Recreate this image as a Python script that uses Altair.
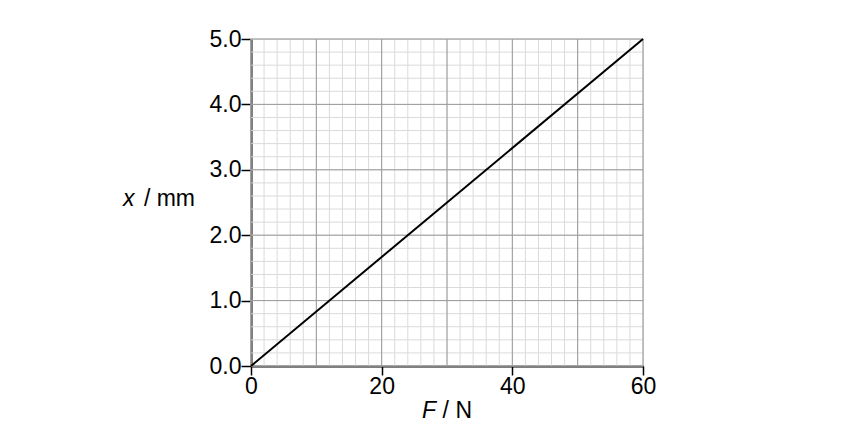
import altair as alt
import pandas as pd

# data
force = [0, 60]
extension = [0.0, 5.0]
x_ticks = [0, 20, 40, 60]
y_ticks = [0.0, 1.0, 2.0, 3.0, 4.0, 5.0]
minor_x = [v for v in range(0, 61, 2)]
major_x = [0, 10, 20, 30, 40, 50, 60]
minor_y = [round(v * 0.2, 1) for v in range(0, 26)]
major_y = [0.0, 1.0, 2.0, 3.0, 4.0, 5.0]

FONT = "Liberation Sans"
W, H = 392, 327
TICK_FS = 23
TITLE_FS = 23

xs = alt.Scale(domain=[0, 60], nice=False)
ys = alt.Scale(domain=[0, 5], nice=False)

x_axis = alt.Axis(values=x_ticks, title=None, grid=False, labelFlush=False,
                  domainColor="black", domainWidth=2,
                  tickColor="black", tickWidth=1.5, tickSize=9,
                  labelFont=FONT, labelFontSize=TICK_FS, labelColor="black",
                  labelPadding=0, format="d")
y_axis = alt.Axis(values=y_ticks, title=None, grid=False, labelFlush=False,
                  domainColor="black", domainWidth=2,
                  tickColor="black", tickWidth=1.5, tickSize=10,
                  labelFont=FONT, labelFontSize=TICK_FS, labelColor="black",
                  labelPadding=0, format=".1f")

line_df = pd.DataFrame({"F": force, "x": extension})

minor_v = alt.Chart(pd.DataFrame({"v": minor_x})).mark_rule(color="#dadada", strokeWidth=1).encode(
    x=alt.X("v:Q", scale=xs, axis=None))
minor_h = alt.Chart(pd.DataFrame({"v": minor_y})).mark_rule(color="#dadada", strokeWidth=1).encode(
    y=alt.Y("v:Q", scale=ys, axis=None))
major_v = alt.Chart(pd.DataFrame({"v": major_x})).mark_rule(color="#9a9a9a", strokeWidth=1).encode(
    x=alt.X("v:Q", scale=xs, axis=None))
major_h = alt.Chart(pd.DataFrame({"v": major_y})).mark_rule(color="#9a9a9a", strokeWidth=1).encode(
    y=alt.Y("v:Q", scale=ys, axis=None))

line = alt.Chart(line_df).mark_line(color="black", strokeWidth=2).encode(
    x=alt.X("F:Q", scale=xs, axis=x_axis),
    y=alt.Y("x:Q", scale=ys, axis=y_axis),
)

def label(txt, xpos, ypos, align, italic=False):
    return alt.Chart(pd.DataFrame({"t": [txt]})).mark_text(
        font=FONT, fontSize=TITLE_FS, fontStyle="italic" if italic else "normal",
        align=align, baseline="alphabetic", color="black"
    ).encode(text="t:N", x=alt.value(xpos), y=alt.value(ypos))

title_f = label("F", 171, H + 52, "left", True)
title_n = label("\u00a0/ N", 221, H + 52, "right")
title_x = label("x", -128, 167, "left", True)
title_mm = label("\u00a0/ mm", -56, 167, "right")

chart = alt.layer(minor_v, minor_h, major_v, major_h, line, title_f, title_n, title_x, title_mm).resolve_axis(
    x="independent", y="independent"
).properties(
    width=W, height=H,
    autosize=alt.AutoSizeParams(type="none"),
    padding={"left": 243, "top": 31, "right": 200, "bottom": 70},
).configure_view(stroke=None).configure_axis(
    labelFontSize=TICK_FS, labelFont=FONT
).configure(background="white")

chart.save("out.html", embed_options={"renderer": "svg", "actions": False})
